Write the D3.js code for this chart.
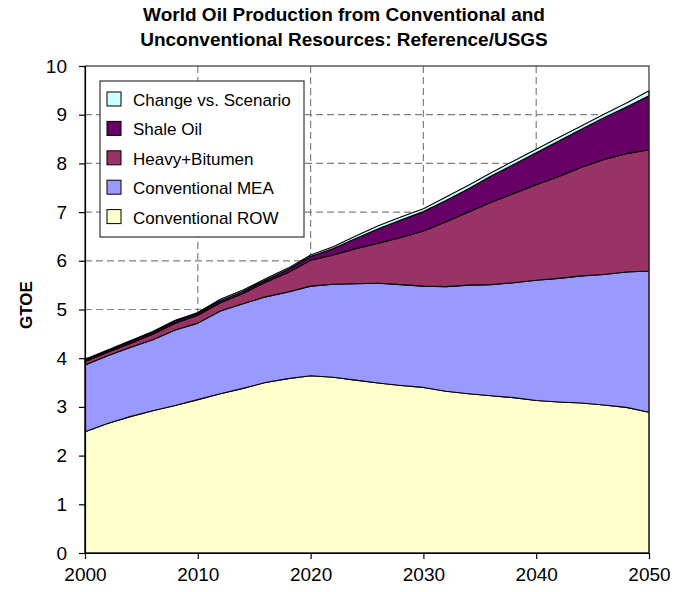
<!DOCTYPE html>
<html>
<head>
<meta charset="utf-8">
<script src="https://cdn.jsdelivr.net/npm/d3@7"></script>
<style>
  body { margin: 0; background: #fff; overflow: hidden; }
  svg { display: block; font-family: "Liberation Sans", Arial, sans-serif; }
  .grid line { stroke: #808080; stroke-dasharray: 7,4; stroke-width: 1.2; }
  .axis text { font-family: "Liberation Sans", Arial, sans-serif; fill: #000; }
  .axis path, .axis line { stroke: #000; stroke-width: 1.2; }
</style>
</head>
<body>
<svg></svg>
<script>
const years = [2000, 2002, 2004, 2006, 2008, 2010, 2012, 2014, 2016, 2018, 2020, 2022, 2024,
  2026, 2028, 2030, 2032, 2034, 2036, 2038, 2040, 2042, 2044, 2046, 2048, 2050];

const conventionalROW = [2.49, 2.66, 2.80, 2.92, 3.03, 3.15, 3.27, 3.38, 3.50, 3.58, 3.64, 3.61, 3.55,
  3.49, 3.44, 3.40, 3.32, 3.27, 3.23, 3.19, 3.13, 3.10, 3.08, 3.04, 2.99, 2.89];
const conventionalMEA = [1.37, 1.39, 1.42, 1.46, 1.55, 1.57, 1.70, 1.74, 1.76, 1.78, 1.84, 1.91, 1.98,
  2.05, 2.07, 2.08, 2.15, 2.23, 2.28, 2.36, 2.47, 2.54, 2.61, 2.68, 2.78, 2.90];
const heavyBitumen = [0.07, 0.07, 0.08, 0.11, 0.14, 0.16, 0.17, 0.21, 0.30, 0.40, 0.53, 0.60, 0.72,
  0.82, 0.97, 1.13, 1.33, 1.50, 1.69, 1.83, 1.96, 2.09, 2.23, 2.36, 2.43, 2.49];
const shaleOil = [0.03, 0.03, 0.04, 0.04, 0.04, 0.04, 0.04, 0.04, 0.04, 0.06, 0.08, 0.13, 0.21,
  0.30, 0.36, 0.40, 0.44, 0.48, 0.54, 0.60, 0.66, 0.73, 0.78, 0.86, 0.96, 1.11];
const changeVsScenario = [0.02, 0.02, 0.02, 0.02, 0.02, 0.02, 0.03, 0.03, 0.03, 0.03, 0.03, 0.04, 0.05,
  0.06, 0.06, 0.06, 0.07, 0.07, 0.07, 0.07, 0.07, 0.07, 0.07, 0.07, 0.08, 0.10];

const seriesNames = ['Conventional ROW', 'Conventional MEA', 'Heavy+Bitumen', 'Shale Oil', 'Change vs. Scenario'];
const seriesColors = ['#FFFFCC', '#9999FF', '#993366', '#660066', '#CCFFFF'];
const xTicks = [2000, 2010, 2020, 2030, 2040, 2050];
const yTicks = [0, 1, 2, 3, 4, 5, 6, 7, 8, 9, 10];

const svg = d3.select('svg')
  .attr('width', 689)
  .attr('height', 592);

const margin = { top: 66, right: 40, bottom: 39, left: 85 },
  innerWidth = 689 - margin.left - margin.right,
  innerHeight = 592 - margin.top - margin.bottom;

const xScale = d3.scaleLinear().domain([2000, 2050]).range([0, innerWidth]);
const yScale = d3.scaleLinear().domain([0, 10]).range([innerHeight, 0]);

const table = years.map((y, i) => ({
  year: y,
  'Conventional ROW': conventionalROW[i],
  'Conventional MEA': conventionalMEA[i],
  'Heavy+Bitumen': heavyBitumen[i],
  'Shale Oil': shaleOil[i],
  'Change vs. Scenario': changeVsScenario[i]
}));

const stacked = d3.stack().keys(seriesNames)(table);

const g = svg.append('g')
  .attr('transform', `translate(${margin.left}, ${margin.top})`);

// grid
const grid = g.append('g').attr('class', 'grid');
grid.selectAll('.h')
  .data(yTicks.slice(1, -1))
  .enter().append('line')
  .attr('x1', 0).attr('x2', innerWidth)
  .attr('y1', d => yScale(d)).attr('y2', d => yScale(d));
grid.selectAll('.v')
  .data(xTicks.slice(1, -1))
  .enter().append('line')
  .attr('y1', 0).attr('y2', innerHeight)
  .attr('x1', d => xScale(d)).attr('x2', d => xScale(d));

const area = d3.area()
  .x(d => xScale(d.data.year))
  .y0(d => yScale(d[0]))
  .y1(d => yScale(d[1]));

g.selectAll('.layer')
  .data(stacked)
  .enter().append('path')
  .attr('class', 'layer')
  .attr('fill', (d, i) => seriesColors[i])
  .attr('stroke', '#000')
  .attr('stroke-width', 1.1)
  .attr('stroke-linejoin', 'round')
  .attr('d', area);

// frame
g.append('rect')
  .attr('width', innerWidth)
  .attr('height', innerHeight)
  .attr('fill', 'none')
  .attr('stroke', '#333')
  .attr('stroke-width', 1.2);

const xAxis = d3.axisBottom(xScale)
  .tickValues(xTicks)
  .tickFormat(d3.format('d'))
  .tickSize(6)
  .tickSizeOuter(0)
  .tickPadding(9);
g.append('g').attr('class', 'axis')
  .attr('transform', `translate(0, ${innerHeight})`)
  .call(xAxis)
  .selectAll('text').attr('font-size', 19);

const yAxis = d3.axisLeft(yScale)
  .tickValues(yTicks)
  .tickSize(6)
  .tickSizeOuter(0)
  .tickPadding(12);
g.append('g').attr('class', 'axis').call(yAxis)
  .selectAll('text').attr('font-size', 19);

// title
svg.append('text')
  .attr('x', 344).attr('y', 21)
  .attr('text-anchor', 'middle')
  .attr('font-size', 19).attr('font-weight', 'bold')
  .text('World Oil Production from Conventional and');
svg.append('text')
  .attr('x', 344).attr('y', 46)
  .attr('text-anchor', 'middle')
  .attr('font-size', 19).attr('font-weight', 'bold')
  .text('Unconventional Resources: Reference/USGS');

svg.append('text')
  .attr('transform', 'translate(32, 305) rotate(-90)')
  .attr('text-anchor', 'middle')
  .attr('font-size', 17).attr('font-weight', 'bold')
  .text('GTOE');

// legend
const legend = svg.append('g').attr('transform', 'translate(100, 81)');
legend.append('rect')
  .attr('width', 204).attr('height', 156)
  .attr('fill', '#fff').attr('stroke', '#333').attr('stroke-width', 1.2);
const legendItems = seriesNames.map((n, i) => ({ name: n, color: seriesColors[i] })).reverse();
const li = legend.selectAll('.li')
  .data(legendItems)
  .enter().append('g')
  .attr('transform', (d, i) => `translate(7, ${11 + i * 29.4})`);
li.append('rect')
  .attr('width', 14).attr('height', 14)
  .attr('fill', d => d.color).attr('stroke', '#000').attr('stroke-width', 1);
li.append('text')
  .attr('x', 26).attr('y', 14)
  .attr('font-size', 17)
  .text(d => d.name);
</script>
</body>
</html>
